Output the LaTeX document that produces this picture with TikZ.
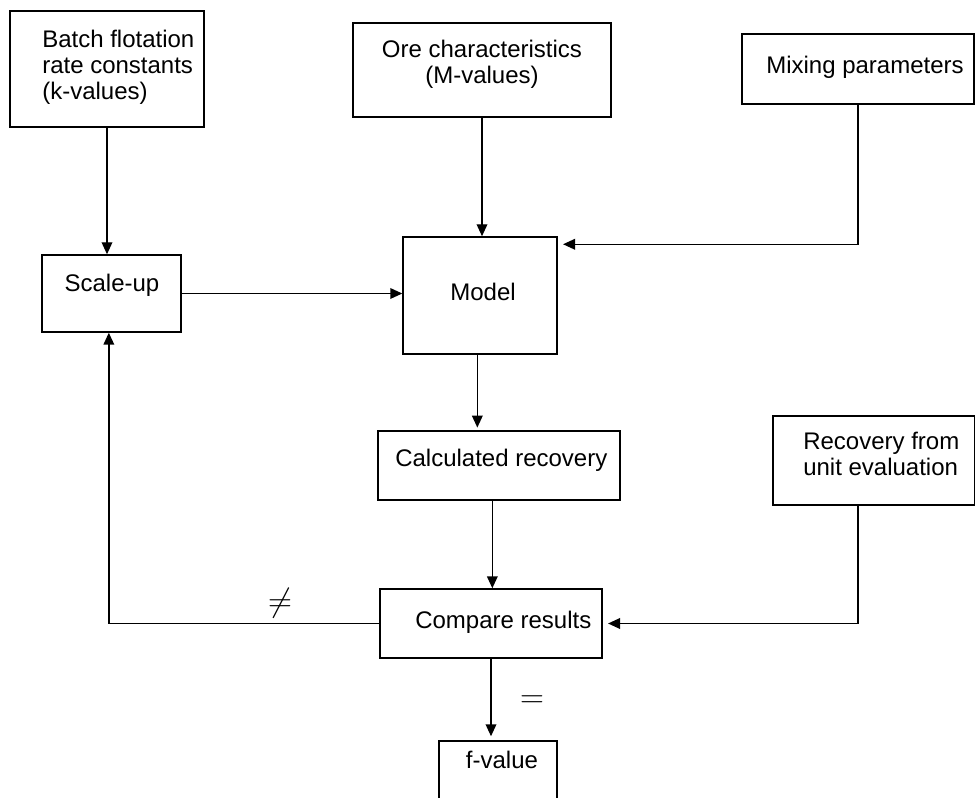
\documentclass[tikz,border=0pt]{standalone}
\usepackage{fontspec}
\setmainfont{Liberation Sans}
\usetikzlibrary{arrows.meta}
\begin{document}
\begin{tikzpicture}[x=0.75pt,y=-0.75pt,
  box/.style={draw,line width=1.1pt,inner sep=0pt},
  txt/.style={inner sep=0pt,font=\fontsize{18}{19.5}\selectfont},
  conn/.style={line width=1.1pt,-{Triangle[length=9pt,width=8pt]}},
  lbl/.style={inner sep=0pt,font=\fontsize{24}{24}\selectfont}]
\useasboundingbox (0,0) rectangle (975,798);
\fill[white] (0,0) rectangle (975,798);
% boxes
\node[box,minimum width=145.5pt,minimum height=87pt] (batch) at (107,69) {};
\node[box,minimum width=193.5pt,minimum height=70.5pt] (ore) at (482,70) {};
\node[box,minimum width=174pt,minimum height=52.5pt] (mixing) at (858,69) {};
\node[box,minimum width=104pt,minimum height=57.75pt] (scaleup) at (111.5,293.5) {};
\node[box,minimum width=115.5pt,minimum height=87.75pt] (model) at (480,295.5) {};
\node[box,minimum width=181.5pt,minimum height=51.75pt] (calc) at (499,465.5) {};
\node[box,minimum width=151.5pt,minimum height=66.75pt] (recovery) at (874,460.5) {};
\node[box,minimum width=166.5pt,minimum height=51.75pt] (compare) at (491,623.5) {};
\node[box,minimum width=88.5pt,minimum height=52.5pt] (fvalue) at (498,776) {};
% texts
\node[txt,anchor=west,align=left] (tbatch) at (42,67) {Batch flotation\\rate constants\\(k-values)};
\node[txt,align=center] (tore) at (482,64) {Ore characteristics\\(M-values)};
\node[txt] (tmixing) at (865,67) {Mixing parameters};
\node[txt] (tscaleup) at (112,285) {Scale-up};
\node[txt] (tmodel) at (483,292) {Model};
\node[txt,anchor=west] (tcalc) at (395,460) {Calculated recovery};
\node[txt,anchor=west,align=left] (trecovery) at (803,454) {Recovery from\\unit evaluation};
\node[txt,anchor=west] (tcompare) at (415,622) {Compare results};
\node[txt] (tfvalue) at (502,760) {f-value};
% connectors
\draw[conn] (batch.south) -- (batch.south |- scaleup.north);
\draw[conn] (ore.south) -- (ore.south |- model.north);
\draw[conn,shorten >=4pt] (mixing.south) |- ([yshift=-6pt]model.north east);
\draw[conn] (scaleup.east) -- (scaleup.east -| model.west);
\draw[conn,shorten >=2pt] ([xshift=-2pt]model.south) -- ([xshift=-2pt]model.south |- calc.north);
\draw[conn] ([xshift=-5pt]calc.south) -- ([xshift=-5pt]calc.south |- compare.north);
\draw[conn,shorten >=4pt] ([xshift=-12pt]recovery.south) |- (compare.east);
\draw[conn] (compare.west) -| ([xshift=-2pt]scaleup.south);
\draw[conn,shorten >=3pt] (compare.south) -- (compare.south |- fvalue.north);
\node[lbl] (neq) at (280,603) {$\neq$};
\node[lbl] (eq) at (532,702) {$=$};
\end{tikzpicture}
\end{document}
